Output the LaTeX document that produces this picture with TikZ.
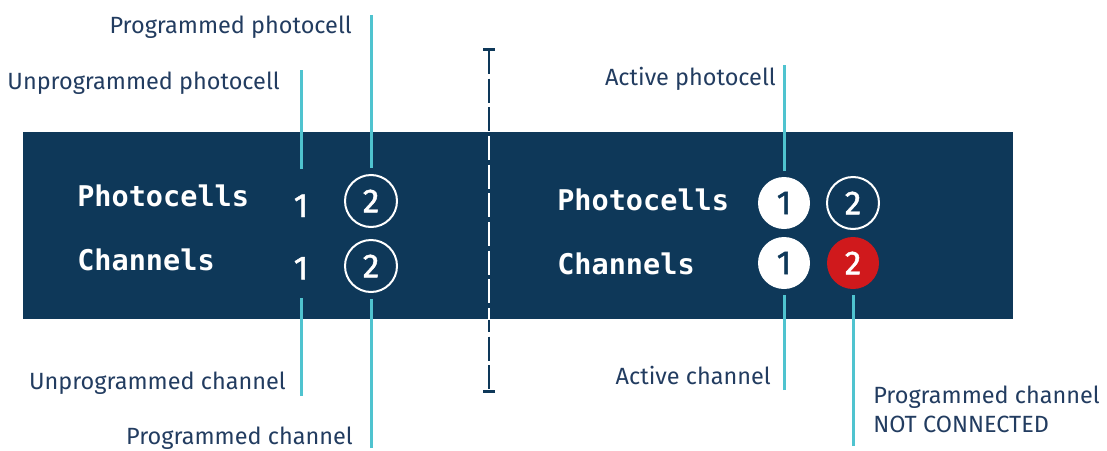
\documentclass[tikz,border=0pt]{standalone}
\usepackage{fontspec}
\setmainfont{Fira Sans}
\newfontfamily\rowmono{DejaVu Sans Mono}
\newfontfamily\digitfont{Fira Sans}[FakeBold=1.4]
\usetikzlibrary{positioning,arrows.meta}
\definecolor{bandnavy}{RGB}{14,56,89}
\definecolor{textnavy}{RGB}{34,60,96}
\definecolor{calloutcyan}{RGB}{79,195,207}
\definecolor{alertred}{RGB}{208,25,28}

\tikzset{
  callout/.style={draw=calloutcyan, line width=2.25pt, shorten >=4.5pt},
  calltext/.style={text=textnavy, font=\fontsize{17.6}{21}\selectfont, inner sep=0pt},
  rowtext/.style={text=white, font=\rowmono\bfseries\fontsize{21.4}{26}\selectfont, anchor=base west, inner sep=0pt},
  digit/.style={circle, minimum size=39pt, inner sep=0pt, font=\digitfont\fontsize{25}{30}\selectfont},
  blankch/.style={digit, text=white},
  opench/.style={digit, draw=white, line width=1.5pt, text=white},
  activech/.style={digit, fill=white, text=bandnavy},
  alertch/.style={digit, fill=alertred, text=white},
  divider/.style={line width=1.9pt, dash pattern=on 18pt off 3.5pt, {Bar[width=9pt]}-{Bar[width=9pt]}}
}

\begin{document}
\begin{tikzpicture}[x=0.75pt, y=-0.75pt]
    \useasboundingbox (0,0) rectangle (1107,450);

    % Define band
    \path[fill=bandnavy] (23,132) rectangle (1013,319);

    % Define divider
    \coordinate (divtop) at (489,48);
    \coordinate (divbot) at (489,393);
    \draw[divider, draw=bandnavy] (divtop) -- (divbot);
    \begin{scope}
        \clip (23,132) rectangle (1013,319);
        \draw[divider, draw=white] (divtop) -- (divbot);
    \end{scope}

    % Row labels
    \node[rowtext] (lphoto) at (77,206) {Photocells};
    \node[rowtext] (lchan) at (77,270) {Channels};
    \node[rowtext] (rphoto) at (557,210) {Photocells};
    \node[rowtext] (rchan) at (557,274) {Channels};

    % Define channel marks
    \node[blankch] (lp1) at (301,201) {\raisebox{-12pt}[0pt][0pt]{1}};
    \node[opench] (lp2) at (371,201) {2};
    \node[blankch] (lc1) at (301,266) {\raisebox{-10pt}[0pt][0pt]{1}};
    \node[opench] (lc2) at (371,266) {2};
    \node[activech] (rp1) at (784,203) {1};
    \node[opench] (rp2) at (853,203) {2};
    \node[activech] (rc1) at (784,263) {1};
    \node[alertch] (rc2) at (853,263) {2};

    % Define callouts
    \coordinate (upctop) at (301,70);
    \coordinate (ppctop) at (371,15);
    \coordinate (uchbot) at (301,396);
    \coordinate (pchbot) at (371,448);
    \coordinate (apctop) at (784,65);
    \coordinate (achbot) at (784,390);
    \coordinate (ncbot) at (853,446);
    \draw[callout] (upctop) -- (lp1.north);
    \draw[callout] (ppctop) -- (lp2.north);
    \draw[callout] (uchbot) -- (lc1.south);
    \draw[callout] (pchbot) -- (lc2.south);
    \draw[callout] (apctop) -- (rp1.north);
    \draw[callout] (achbot) -- (rc1.south);
    \draw[callout] (ncbot) -- (rc2.south);

    % Labels for callouts
    \node[calltext, anchor=base east] (upclbl) at (280,89) {Unprogrammed photocell};
    \node[calltext, anchor=base east] (ppclbl) at (352,33) {Programmed photocell};
    \node[calltext, anchor=base east] (uchlbl) at (286,389) {Unprogrammed channel};
    \node[calltext, anchor=base east] (pchlbl) at (353,444) {Programmed channel};
    \node[calltext, anchor=base east] (apclbl) at (776,85) {Active photocell};
    \node[calltext, anchor=base east] (achlbl) at (771,384) {Active channel};
    \node[calltext, anchor=base west] (nclbl) at (873,403) {Programmed channel};
    \node[calltext, anchor=base west] (nclbltwo) at (873,432) {NOT CONNECTED};

\end{tikzpicture}
\end{document}
